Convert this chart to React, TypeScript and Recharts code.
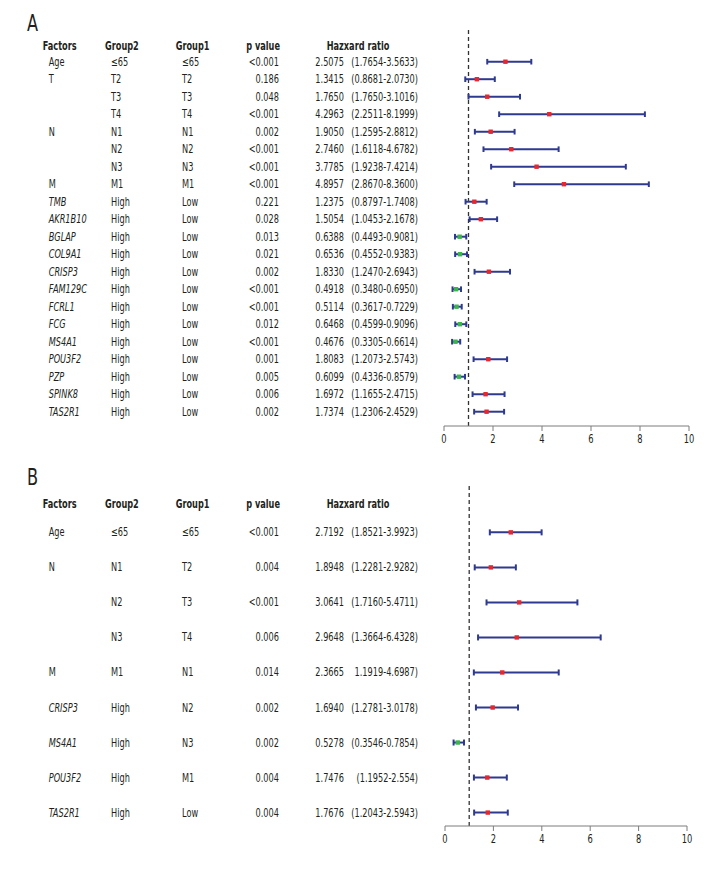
import React from 'react';
import {
  ScatterChart,
  Scatter,
  XAxis,
  YAxis,
  ErrorBar,
  ReferenceLine,
} from 'recharts';

// ---- panel A ----
const factorsA = ['Age', 'T', '', '', 'N', '', '', 'M', 'TMB', 'AKR1B10', 'BGLAP', 'COL9A1', 'CRISP3', 'FAM129C', 'FCRL1', 'FCG', 'MS4A1', 'POU3F2', 'PZP', 'SPINK8', 'TAS2R1'];
const group2A = ['≤65', 'T2', 'T3', 'T4', 'N1', 'N2', 'N3', 'M1', 'High', 'High', 'High', 'High', 'High', 'High', 'High', 'High', 'High', 'High', 'High', 'High', 'High'];
const group1A = ['≤65', 'T2', 'T3', 'T4', 'N1', 'N2', 'N3', 'M1', 'Low', 'Low', 'Low', 'Low', 'Low', 'Low', 'Low', 'Low', 'Low', 'Low', 'Low', 'Low', 'Low'];
const pA = ['<0.001', '0.186', '0.048', '<0.001', '0.002', '<0.001', '<0.001', '<0.001', '0.221', '0.028', '0.013', '0.021', '0.002', '<0.001', '<0.001', '0.012', '<0.001', '0.001', '0.005', '0.006', '0.002'];
const hrTextA = ['2.5075', '1.3415', '1.7650', '4.2963', '1.9050', '2.7460', '3.7785', '4.8957', '1.2375', '1.5054', '0.6388', '0.6536', '1.8330', '0.4918', '0.5114', '0.6468', '0.4676', '1.8083', '0.6099', '1.6972', '1.7374'];
const ciTextA = ['(1.7654-3.5633)', '(0.8681-2.0730)', '(1.7650-3.1016)', '(2.2511-8.1999)', '(1.2595-2.8812)', '(1.6118-4.6782)', '(1.9238-7.4214)', '(2.8670-8.3600)', '(0.8797-1.7408)', '(1.0453-2.1678)', '(0.4493-0.9081)', '(0.4552-0.9383)', '(1.2470-2.6943)', '(0.3480-0.6950)', '(0.3617-0.7229)', '(0.4599-0.9096)', '(0.3305-0.6614)', '(1.2073-2.5743)', '(0.4336-0.8579)', '(1.1655-2.4715)', '(1.2306-2.4529)'];
// plotted values (as drawn)
const hrA = [2.5075, 1.3415, 1.765, 4.2963, 1.905, 2.746, 3.7785, 4.8957, 1.2375, 1.5054, 0.6388, 0.6536, 1.833, 0.4918, 0.5114, 0.6468, 0.4676, 1.8083, 0.6099, 1.6972, 1.7374];
const loA = [1.7654, 0.8681, 1.0, 2.2511, 1.2595, 1.6118, 1.9238, 2.867, 0.8797, 1.0453, 0.4493, 0.4552, 1.247, 0.348, 0.3617, 0.4599, 0.3305, 1.2073, 0.4336, 1.1655, 1.2306];
const hiA = [3.5633, 2.073, 3.1016, 8.1999, 2.8812, 4.6782, 7.4214, 8.36, 1.7408, 2.1678, 0.9081, 0.9383, 2.6943, 0.695, 0.7229, 0.9096, 0.6614, 2.5743, 0.8579, 2.4715, 2.4529];

// ---- panel B ----
const factorsB = ['Age', 'N', '', '', 'M', 'CRISP3', 'MS4A1', 'POU3F2', 'TAS2R1'];
const group2B = ['≤65', 'N1', 'N2', 'N3', 'M1', 'High', 'High', 'High', 'High'];
const group1B = ['≤65', 'T2', 'T3', 'T4', 'N1', 'N2', 'N3', 'M1', 'Low'];
const pB = ['<0.001', '0.004', '<0.001', '0.006', '0.014', '0.002', '0.002', '0.004', '0.004'];
const hrTextB = ['2.7192', '1.8948', '3.0641', '2.9648', '2.3665', '1.6940', '0.5278', '1.7476', '1.7676'];
const ciTextB = ['(1.8521-3.9923)', '(1.2281-2.9282)', '(1.7160-5.4711)', '(1.3664-6.4328)', '1.1919-4.6987)', '(1.2781-3.0178)', '(0.3546-0.7854)', '(1.1952-2.554)', '(1.2043-2.5943)'];
const hrB = [2.7192, 1.8948, 3.0641, 2.9648, 2.3665, 1.97, 0.5278, 1.7476, 1.7676];
const loB = [1.8521, 1.2281, 1.716, 1.3664, 1.1919, 1.2781, 0.3546, 1.1952, 1.2043];
const hiB = [3.9923, 2.9282, 5.4711, 6.4328, 4.6987, 3.0178, 0.7854, 2.554, 2.5943];

const xTicks = [0, 2, 4, 6, 8, 10];
const headers = ['Factors', 'Group2', 'Group1', 'p value', 'Hazxard ratio'];

const FONT = "'DejaVu Sans Condensed', 'DejaVu Sans', sans-serif";
const SX = 0.76; // squeeze to match the narrow typeface of the original
const INK = '#231f20';
const BAR = '#2e3a8f';
const RED = '#e8262b';
const GREEN = '#3bb44a';

// condensed text helper
const CText: React.FC<{
  x: number; y: number; anchor?: 'start' | 'middle' | 'end'; bold?: boolean; italic?: boolean;
  size?: number; dy?: number; sx?: number; children: React.ReactNode;
}> = ({ x, y, anchor = 'start', bold, italic, size = 12, dy = 4, sx = SX, children }) => (
  <text
    transform={`translate(${x} ${y}) scale(${sx} 1)`}
    x={0}
    y={0}
    dy={dy}
    textAnchor={anchor}
    fontFamily={FONT}
    fontSize={size}
    fontWeight={bold ? 'bold' : 'normal'}
    fontStyle={italic ? 'italic' : 'normal'}
    fill={INK}
  >
    {children}
  </text>
);

interface Table {
  factors: string[];
  group2: string[];
  group1: string[];
  p: string[];
  hrText: string[];
  ciText: string[];
  italicFrom: number;
  headerPos: number;
}

const buildRows = (hr: number[], lo: number[], hi: number[]) =>
  hr.map((v, i) => ({ x: v, y: i, err: [v - lo[i], hi[i] - v] }));

const makeTick = (t: Table) => (props: any) => {
  const { y, payload } = props;
  const v = payload.value;
  if (v === t.headerPos) {
    return (
      <g>
        <CText x={42.7} y={y} bold>{headers[0]}</CText>
        <CText x={105} y={y} bold>{headers[1]}</CText>
        <CText x={175.7} y={y} bold>{headers[2]}</CText>
        <CText x={280} y={y} bold anchor="end">{headers[3]}</CText>
        <CText x={358} y={y} bold anchor="middle">{headers[4]}</CText>
      </g>
    );
  }
  const i = Math.round(v);
  return (
    <g>
      <CText x={48.7} y={y} italic={i >= t.italicFrom}>{t.factors[i]}</CText>
      <CText x={111} y={y}>{t.group2[i]}</CText>
      <CText x={182} y={y}>{t.group1[i]}</CText>
      <CText x={279} y={y} anchor="end">{t.p[i]}</CText>
      <CText x={344} y={y} anchor="end">{t.hrText[i]}</CText>
      <CText x={418} y={y} anchor="end">{t.ciText[i]}</CText>
    </g>
  );
};

const XTick = (props: any) => {
  const { x, y, payload } = props;
  return <CText x={x} y={y} anchor="middle" size={12.5} dy={10} sx={0.74}>{payload.value}</CText>;
};

const Dot = (props: any) => {
  const { cx, cy, payload } = props;
  return <rect x={cx - 2.2} y={cy - 2.2} width={4.4} height={4.4} fill={payload.x < 1 ? GREEN : RED} />;
};

interface ForestProps {
  table: Table;
  rows: Array<{ x: number; y: number; err: number[] }>;
  height: number;
  domain: [number, number];
  margin: { top: number; right: number; left: number; bottom: number };
  yWidth: number;
  capWidth: number;
}

const Forest: React.FC<ForestProps> = ({ table, rows, height, domain, margin, yWidth, capWidth }) => {
  const ticks = [table.headerPos, ...rows.map((r) => r.y)];
  return (
    <ScatterChart width={720} height={height} margin={margin}>
      <XAxis
        type="number"
        dataKey="x"
        domain={[0, 10]}
        ticks={xTicks}
        interval={0}
        height={20}
        stroke="#7d7d7d"
        tickSize={5}
        tickMargin={2}
        tick={<XTick />}
      />
      <YAxis
        type="number"
        dataKey="y"
        domain={domain}
        reversed
        ticks={ticks}
        interval={0}
        width={yWidth}
        axisLine={false}
        tickLine={false}
        tick={makeTick(table)}
        allowDataOverflow
      />
      <ReferenceLine x={1} stroke="#333" strokeWidth={1.3} strokeDasharray="4 3" />
      <Scatter data={rows} shape={<Dot />} isAnimationActive={false}>
        <ErrorBar dataKey="err" direction="x" width={capWidth} stroke={BAR} strokeWidth={2} />
      </Scatter>
    </ScatterChart>
  );
};

const tableA: Table = {
  factors: factorsA, group2: group2A, group1: group1A, p: pA,
  hrText: hrTextA, ciText: ciTextA, italicFrom: 8, headerPos: -0.89,
};
const tableB: Table = {
  factors: factorsB, group2: group2B, group1: group1B, p: pB,
  hrText: hrTextB, ciText: ciTextB, italicFrom: 5, headerPos: -0.81,
};

const panelLabel: React.CSSProperties = {
  position: 'absolute', left: 27, fontFamily: FONT, fontSize: 23, lineHeight: '23px', color: INK,
  transform: 'scaleX(0.78)', transformOrigin: 'left top',
};

export default function App() {
  return (
    <div style={{ position: 'absolute', left: 0, top: 0, width: 720, height: 869, background: '#fff', overflow: 'hidden' }}>
      <div style={{ ...panelLabel, top: 12 }}>A</div>
      <div style={{ ...panelLabel, top: 466 }}>B</div>
      <div style={{ position: 'absolute', left: 0, top: 0 }}>
        <Forest
          table={tableA}
          rows={buildRows(hrA, loA, hiA)}
          height={450}
          domain={[-1.926, 20.817]}
          margin={{ top: 28, right: 31, left: 8, bottom: 4 }}
          yWidth={436}
          capWidth={2.8}
        />
      </div>
      <div style={{ position: 'absolute', left: 0, top: 460 }}>
        <Forest
          table={tableB}
          rows={buildRows(hrB, loB, hiB)}
          height={409}
          domain={[-1.409, 8.383]}
          margin={{ top: 23, right: 33, left: 8, bottom: 23 }}
          yWidth={437}
          capWidth={3}
        />
      </div>
    </div>
  );
}
